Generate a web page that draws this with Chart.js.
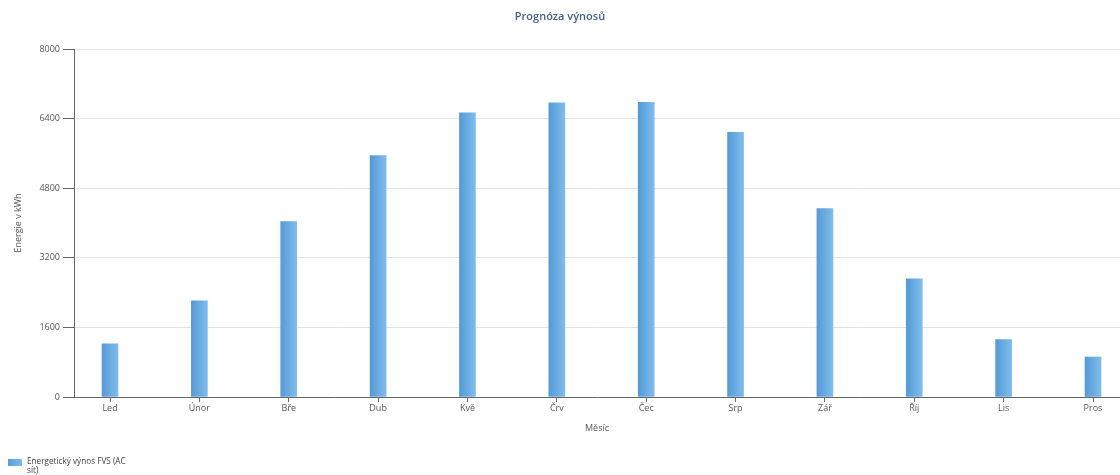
<!DOCTYPE html>
<html lang="cs">
<head>
<meta charset="utf-8">
<title>Prognóza výnosů</title>
<script src="https://cdn.jsdelivr.net/npm/chart.js@4.4.1/dist/chart.umd.min.js"></script>
<style>
  html, body { margin: 0; padding: 0; background: #ffffff; overflow: hidden; }
  #wrap { position: relative; width: 1120px; height: 475px; }
  #chart { display: block; }
  #legend {
    position: absolute; left: 8px; top: 457px;
    display: flex; align-items: flex-start;
    font-family: "Open Sans", "Noto Sans", sans-serif; font-size: 8.2px; line-height: 8.5px; color: #444;
  }
  #legend .box {
    width: 14px; height: 7px; margin-top: 2px; margin-right: 5px;
    background: linear-gradient(to right, #5a9dd8, #7dbbea);
  }
  #legend .txt { width: 112px; }
</style>
</head>
<body>
<div id="wrap">
  <canvas id="chart" width="1120" height="475"></canvas>
  <div id="legend"><span class="box"></span><span class="txt">Energetický výnos FVS (AC síť)</span></div>
</div>
<script>
// Měsíční prognóza výnosu fotovoltaické elektrárny (kWh)
const months = ['Led', 'Únor', 'Bře', 'Dub', 'Kvě', 'Črv', 'Čec', 'Srp', 'Zář', 'Říj', 'Lis', 'Pros'];
const energyKWh = [1220, 2210, 4030, 5550, 6530, 6760, 6775, 6085, 4330, 2715, 1320, 920];
const yTicks = [0, 1600, 3200, 4800, 6400, 8000];

const seriesLabel = 'Energetický výnos FVS (AC síť)';
const FONT = '"Open Sans", "Noto Sans", sans-serif';
const AXIS = '#666666';
const TEXT = '#555555';

// horizontal blue gradient across each bar
function barFill(c) {
  const chart = c.chart;
  const xs = chart.scales && chart.scales.x;
  if (c.type !== 'data' || !xs || !isFinite(xs.left)) return '#66a9e0';
  const px = xs.getPixelForValue(c.dataIndex);
  const g = chart.ctx.createLinearGradient(px - 8, 0, px + 8, 0);
  g.addColorStop(0, '#559ad6');
  g.addColorStop(1, '#7fbcec');
  return g;
}

const points = months.map((m, i) => ({ x: i, y: energyKWh[i] }));

new Chart(document.getElementById('chart'), {
  type: 'bar',
  data: {
    datasets: [{
      label: seriesLabel,
      data: points,
      backgroundColor: barFill,
      borderWidth: 0,
      barThickness: 16
    }]
  },
  options: {
    responsive: false,
    animation: false,
    events: [],
    layout: { padding: { left: 0, right: 0, top: 0, bottom: 36 } },
    plugins: {
      legend: { display: false },
      tooltip: { enabled: false },
      title: {
        display: true,
        text: 'Prognóza výnosů',
        color: '#3f5f8a',
        font: { family: FONT, size: 11, weight: '600' },
        padding: { top: 10, bottom: 25.8 }
      }
    },
    scales: {
      x: {
        type: 'linear',
        offset: false,
        min: -0.403,
        max: 11.302,
        afterFit: s => { s.height = 42; },
        border: { display: true, color: AXIS, width: 1 },
        grid: { offset: false, drawOnChartArea: false, drawTicks: true, tickLength: 5, tickColor: AXIS },
        ticks: {
          stepSize: 1,
          includeBounds: false,
          maxTicksLimit: 20,
          autoSkip: false,
          maxRotation: 0,
          padding: 1,
          color: TEXT,
          font: { family: FONT, size: 9 },
          callback: v => (Number.isInteger(v) && months[v] !== undefined) ? months[v] : ''
        },
        title: {
          display: true,
          text: 'Měsíc',
          color: TEXT,
          font: { family: FONT, size: 9 },
          padding: { top: 0, bottom: 5.5 }
        }
      },
      y: {
        min: 0,
        max: 8000,
        afterFit: s => { s.width = 74; },
        afterBuildTicks: s => { s.ticks = yTicks.map(v => ({ value: v })); },
        border: { display: true, color: AXIS, width: 1 },
        grid: { color: '#e2e2e2', lineWidth: 1, tickLength: 11, tickColor: AXIS },
        ticks: {
          padding: 3,
          color: TEXT,
          font: { family: FONT, size: 9 },
          callback: v => String(v)
        },
        title: {
          display: true,
          text: 'Energie v kWh',
          color: TEXT,
          font: { family: FONT, size: 9 },
          padding: { top: 13, bottom: 0 }
        }
      }
    }
  }
});
</script>
</body>
</html>
